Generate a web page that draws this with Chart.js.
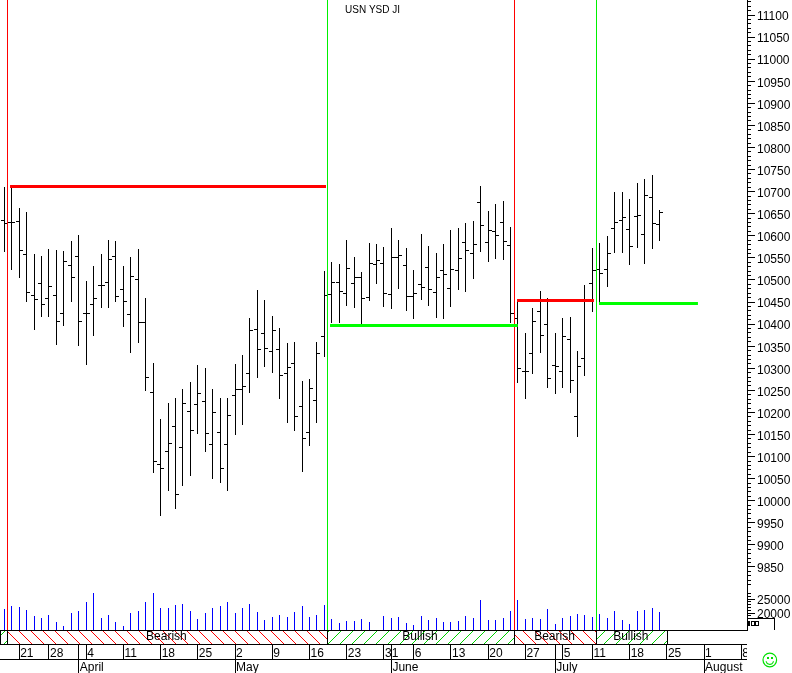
<!DOCTYPE html>
<html><head><meta charset="utf-8">
<style>html,body{margin:0;padding:0;background:#fff;overflow:hidden}canvas{display:block}</style>
<script src="https://cdn.jsdelivr.net/npm/chart.js@4/dist/chart.umd.js"></script>
</head><body><canvas id="c" width="792" height="673"></canvas>
<script>
const titleText = 'USN YSD JI';
const opens = [10635,10630,10633,10558,10465,10492,10458,10465,10424,10533,10553,10424,10445,10488,10495,10553,10479,10422,10501,10404,
10246,10083,10112,10169,10121,10203,10218,10225,10128,10155,10128,10239,10252,10289,10388,10379,10338,10343,10289,10311,10214,10155,10228,10372,
10467,10495,10470,10492,10506,10461,10535,10538,10467,10551,10533,10463,10490,10529,10472,10522,10481,10522,10585,10560,10676,10585,10610,10631,
10578,10413,10293,10334,10429,10400,10307,10293,10366,10191,10322,10492,10524,10524,10617,10635,10615,10644,10603,10687,10626];
const highs = [10711,10711,10663,10654,10559,10554,10570,10568,10566,10588,10602,10498,10532,10559,10590,10588,10532,10552,10570,10459,
10312,10185,10221,10233,10253,10269,10308,10301,10253,10233,10233,10310,10330,10414,10477,10455,10418,10391,10357,10360,10271,10276,10360,10520,
10541,10536,10591,10552,10518,10584,10581,10575,10618,10591,10572,10523,10604,10577,10561,10581,10613,10618,10629,10634,10713,10656,10672,10679,
10620,10452,10379,10436,10475,10459,10381,10413,10416,10338,10488,10572,10583,10600,10699,10699,10683,10720,10729,10738,10658];
const lows = [10564,10523,10505,10449,10387,10417,10417,10353,10396,10451,10351,10308,10374,10437,10437,10449,10394,10335,10358,10248,
10062,9966,10023,9982,10034,10057,10152,10111,10050,10041,10023,10150,10172,10243,10279,10304,10290,10231,10177,10159,10066,10123,10177,10326,
10402,10402,10441,10436,10400,10452,10491,10439,10434,10480,10430,10412,10455,10441,10414,10412,10439,10477,10473,10502,10563,10541,10547,10545,
10403,10267,10231,10288,10335,10256,10242,10256,10245,10145,10283,10428,10449,10483,10561,10561,10534,10572,10536,10570,10588];
const closes = [10628,10630,10567,10472,10456,10445,10486,10406,10542,10506,10406,10424,10458,10488,10547,10463,10452,10508,10404,10279,
10089,10074,10130,10015,10221,10160,10243,10153,10200,10074,10194,10252,10259,10386,10343,10345,10386,10284,10302,10191,10141,10255,10334,10465,
10495,10474,10526,10506,10458,10538,10544,10470,10551,10556,10463,10470,10483,10479,10506,10513,10524,10549,10567,10581,10624,10612,10601,10587,
10424,10300,10293,10406,10375,10277,10304,10372,10273,10304,10454,10522,10515,10560,10630,10642,10576,10646,10692,10628,10653];
const volumes = [21430,22500,22140,21070,18930,18220,19290,16790,15360,20000,20720,23930,27140,18220,19290,16790,15360,20000,20720,23930,
27140,21790,21790,22860,23220,20720,17860,20000,21790,22500,23930,20000,21790,23220,20360,17500,18570,19290,18570,20360,22500,18570,19290,22860,
17860,16430,17140,17140,17860,16790,null,18930,18220,18570,16430,15720,18930,17500,18220,16790,16790,17140,18930,18220,24640,17500,17500,18220,
20720,24640,17860,18220,17860,21430,16070,18220,18930,19640,19290,18570,19640,18220,20720,17500,16070,20720,21070,21790,20360];
const regimeEdges = [-0.5776,0.40,43.41,68.53,79.54,89.05];
const regimeLabels = ['','Bearish','Bullish','Bearish','Bullish'];
const regimeKinds = ['bull','bear','bull','bear','bull'];
const signalX = [0.40,43.41,68.53,79.54];
const signalColors = ['#ff0000','#00f000','#ff0000','#00f000'];
const levelStarts = [0.77,43.75,68.87,79.88];
const levelEnds = [43.21,68.98,79.2,93.17];
const levelValues = [10711.6,10396.9,10453.5,10446.7];
const levelColors = ['#ff0000','#00ff00','#ff0000','#00ff00'];
const dayTickIdx = [2,6,10,11,16,21,26,31,36,41,46,51,52,55,60,65,70,74,75,79,84,89,94,99];
const dayTickLabels = ['21','28','','4','11','18','25','2','9','16','23','31','','6','13','20','27','','5','11','18','25','1','8'];
const monthTickIdx = [10,31,52,74,94];
const monthLabels = ['April','May','June','July','August'];
const priceLabels = [11100,11050,11000,10950,10900,10850,10800,10750,10700,10650,10600,10550,10500,10450,10400,10350,10300,10250,10200,10150,10100,10050,10000,9950,9900,9850];
const volumeLabels = [25000,20000];

const xMin = -0.5776, xMax = 99.76;
const yTop = 11133.97, yBottom = 9707.3;
const volTop = 238929, volBottom = 13929;

class SnapBar extends Chart.BarController {
  updateElement(el, idx, props, mode) {
    if (props && props.x !== undefined) {
      const ds = this.getDataset();
      const p = Math.floor(props.x);
      const side = ds.tickSide || 0;
      if (side) {
        const row = Math.floor(props.y);
        props.y = row; props.base = row + 1; props.height = 1; props.width = 3;
        props.x = side < 0 ? p - 1.5 : p + 2.5;
      } else {
        props.y = Math.round(props.y); props.base = Math.round(props.base);
        props.height = Math.abs(props.base - props.y);
        props.width = 1; props.x = p + 0.5;
      }
    }
    super.updateElement(el, idx, props, mode);
  }
}
SnapBar.id = 'snapbar';
SnapBar.defaults = Chart.BarController.defaults;
SnapBar.overrides = Chart.BarController.overrides;
Chart.register(SnapBar);

function pattern(ctx, kind) {
  const t = document.createElement('canvas'); t.width = 12; t.height = 12;
  const g = t.getContext('2d');
  g.fillStyle = kind === 'bear' ? '#ff0000' : '#00d000';
  for (let k = 0; k < 12; k++) g.fillRect(kind === 'bear' ? k : 11 - k, k, 1, 1);
  return ctx.createPattern(t, 'repeat');
}

const extras = {
  id: 'extras',
  afterDraw(chart) {
    const c = chart.ctx, sx = chart.scales.x;
    const top = 631, h = 13;
    c.save();
    for (let k = 0; k < regimeKinds.length; k++) {
      const a = k === 0 ? 0 : Math.floor(sx.getPixelForValue(regimeEdges[k]));
      const b = Math.floor(sx.getPixelForValue(regimeEdges[k + 1]));
      c.fillStyle = pattern(c, regimeKinds[k]);
      c.fillRect(a, top, b - a, h);
      c.fillStyle = '#000';
      c.fillRect(a, top - 1, 1, h + 1);
      c.fillRect(b, top - 1, 1, h + 1);
    }
    c.fillStyle = '#000';
    c.font = '12px "Liberation Sans"';
    c.textAlign = 'center'; c.textBaseline = 'middle';
    regimeLabels.forEach((t, k) => {
      if (!t) return;
      c.fillText(t, (sx.getPixelForValue(regimeEdges[k]) + sx.getPixelForValue(regimeEdges[k + 1])) / 2 - 1, 637);
    });
    c.font = '10px "Liberation Sans"'; c.textAlign = 'left';
    c.fillText(titleText, 345, 10);
    // clip of date rows at the axis
    c.fillStyle = '#fff'; c.fillRect(747, 644, 15, 29);
    // small box at the axis foot
    c.fillStyle = '#000';
    c.fillRect(747, 618, 28, 1); c.fillRect(774, 618, 1, 12);
    c.strokeStyle = '#000'; c.lineWidth = 1;
    c.fillRect(748, 621, 2, 5);
    c.strokeRect(751.5, 621.5, 3, 4); c.strokeRect(755.5, 621.5, 3, 4);
    // smiley
    c.strokeStyle = '#00e000'; c.lineWidth = 1.2;
    c.beginPath(); c.arc(769.8, 660, 6.8, 0, Math.PI * 2); c.stroke();
    c.beginPath(); c.arc(769.8, 660.5, 3.8, 0.2, Math.PI - 0.2); c.stroke();
    c.fillStyle = '#00e000';
    c.fillRect(767, 657, 2, 2); c.fillRect(771, 657, 2, 2);
    c.restore();
  }
};

const idx = opens.map((_, i) => i);
const base = { type: 'snapbar', grouped: false, inflateAmount: 0, borderWidth: 0, xAxisID: 'x', yAxisID: 'y' };
const datasets = [
  { ...base, label: 'Range', order: 5, backgroundColor: '#000', data: idx.map(i => ({ x: i, y: [lows[i], highs[i]] })) },
  { ...base, label: 'Open', order: 4, tickSide: -1, backgroundColor: '#000', data: idx.map(i => ({ x: i, y: [opens[i], opens[i]] })) },
  { ...base, label: 'Close', order: 4, tickSide: 1, backgroundColor: '#000', data: idx.map(i => ({ x: i, y: [closes[i], closes[i]] })) },
  { ...base, label: 'Volume', order: 6, yAxisID: 'vol', backgroundColor: '#0000ff', data: idx.map(i => ({ x: i, y: volumes[i] })) },
  { ...base, label: 'Signal', order: 1, backgroundColor: signalColors, data: signalX.map(x => ({ x, y: [yBottom, yTop] })) }
];
levelValues.forEach((v, k) => datasets.push({
  type: 'line', label: 'Level ' + k, order: 0, xAxisID: 'x', yAxisID: 'y', borderColor: levelColors[k], borderWidth: 3,
  pointRadius: 0, borderCapStyle: 'butt', fill: false,
  data: [{ x: levelStarts[k], y: v }, { x: levelEnds[k], y: v }]
}));

const black = { color: '#000', width: 1 };
function flat(s) { s.paddingTop = 0; s.paddingBottom = 0; s.paddingLeft = 0; s.paddingRight = 0; }
function xAxis(height, weight, tickVals, labels, tickLength, pad) {
  return {
    type: 'linear', min: xMin, max: xMax, offset: false, position: 'bottom', weight,
    afterBuildTicks: s => { s.ticks = tickVals.map(v => ({ value: v })); },
    afterFit: s => { s.height = height; flat(s); },
    border: black,
    grid: { drawOnChartArea: false, offset: false, tickLength, tickColor: '#000', tickWidth: 1, drawTicks: tickLength > 0 },
    ticks: {
      display: labels.length > 0, autoSkip: false, maxRotation: 0, minRotation: 0, align: 'start', padding: pad, labelOffset: 1,
      color: '#000', font: { family: 'Liberation Sans', size: 12 },
      callback: (v, i) => labels[i]
    }
  };
}
function yAxis(min, max, width, weight, tickVals, showLabels, tickLength) {
  return {
    type: 'linear', axis: 'y', position: 'right', min, max, weight, offset: false,
    afterBuildTicks: s => { s.ticks = tickVals.map(v => ({ value: v })); },
    afterFit: s => { s.width = width; flat(s); s._computeLabelArea = () => null; },
    border: black,
    grid: { drawOnChartArea: false, tickLength, tickColor: '#000', tickWidth: 1 },
    ticks: {
      display: showLabels, autoSkip: false, padding: 2, color: '#000', crossAlign: 'near', labelOffset: 2,
      font: { family: 'Liberation Sans', size: 12 }, callback: v => String(v)
    }
  };
}
const priceMinor = [];
for (let v = 11130; v >= 9800; v -= 10) if (v % 50 !== 0) priceMinor.push(v);
const volMinor = [];
for (let v = 18000; v <= 27000; v += 1000) if (v % 5000 !== 0) volMinor.push(v);

new Chart(document.getElementById('c'), {
  type: 'snapbar',
  data: { datasets },
  plugins: [extras],
  options: {
    responsive: false, animation: false, devicePixelRatio: 1,
    layout: { padding: 0 },
    plugins: { legend: { display: false }, tooltip: { enabled: false }, title: { display: false } },
    scales: {
      xBand: xAxis(14, 1, [], [], 0, 0),
      x: xAxis(15, 2, dayTickIdx, dayTickLabels, 15, -13),
      xMonth: xAxis(14, 3, monthTickIdx, monthLabels, 14, -13),
      yMinor: yAxis(yBottom, yTop, 0, -4, priceMinor, false, 4),
      volMinor: yAxis(volBottom, volTop, 0, -3, volMinor, false, 4),
      vol: yAxis(volBottom, volTop, 0, -2, volumeLabels, true, 8),
      y: yAxis(yBottom, yTop, 45, -1, priceLabels, true, 8)
    }
  }
});
</script></body></html>
